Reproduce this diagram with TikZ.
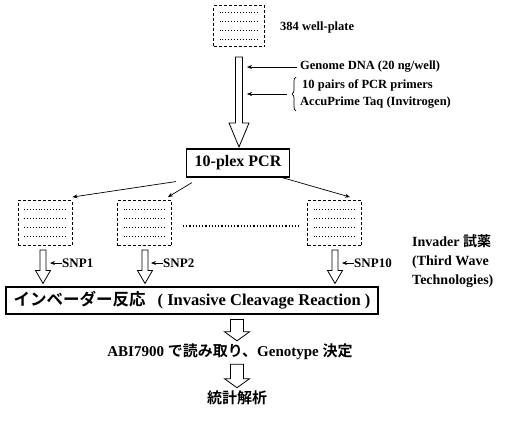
\documentclass[tikz,border=0pt]{standalone}
\usepackage{fontspec}
\setmainfont{Liberation Serif}
\newfontfamily\jp{Noto Sans CJK JP}[BoldFont={Noto Sans CJK JP Bold}]
\usetikzlibrary{arrows.meta,calc,decorations.pathreplacing}

\tikzset{
  plate/.style={draw, densely dashed, line width=0.9pt, minimum width=54pt, minimum height=45pt, inner sep=0pt,
    path picture={\foreach \r in {-13.5,-4.5,4.5,13.5}
      \draw[solid, dotted, line width=0.9pt] ([xshift=6pt,yshift=\r pt]path picture bounding box.west) -- ([xshift=-6pt,yshift=\r pt]path picture bounding box.east);}},
  box/.style={draw, line width=1.1pt, inner sep=3pt},
  note/.style={font=\bfseries\fontsize{12.5}{15}\selectfont, inner sep=0pt, anchor=west},
  snp/.style={font=\bfseries\fontsize{13}{15}\selectfont, inner sep=0pt, anchor=west},
  thinarrow/.style={-{Stealth[length=5pt,width=4pt]}, line width=0.7pt},
}

% hollow block arrow: start, tip, half shaft, half head, head length
\newcommand{\fatarrow}[5]{%
  \draw[fill=white, line width=0.8pt] let \p1=(#1), \p2=(#2) in
    (\x1-#3,\y1) -- (\x1-#3,\y2+#5) -- (\x1-#4,\y2+#5) -- (\x1,\y2)
    -- (\x1+#4,\y2+#5) -- (\x1+#3,\y2+#5) -- (\x1+#3,\y1) -- cycle;}

\begin{document}
\begin{tikzpicture}[x=1pt,y=-1pt]
  \useasboundingbox (0,0) rectangle (506,421);

  % top plate and PCR
  \node[plate, minimum width=51pt, minimum height=41pt] (plate0) at (239,26) {};
  \node[note] (well) at (280,27) {384 well-plate};
  \node[box, font=\bfseries\fontsize{16}{18}\selectfont, minimum width=103pt, minimum height=28pt] (pcr) at (238,163) {10-plex PCR};
  \fatarrow{$(plate0.south)+(0,10)$}{$(pcr.north)+(0,-1.5)$}{3.5pt}{10pt}{24pt}

  % inputs
  \node[note] (genome) at (300,67) {Genome DNA (20 ng/well)};
  \coordinate (gtip) at (247,67);
  \draw[thinarrow] ([xshift=-3pt]genome.west) -- (gtip);
  \node[note] (primer) at (302,85) {10 pairs of PCR primers};
  \node[note] (accu) at (300,103) {AccuPrime Taq (Invitrogen)};
  \draw[line width=0.7pt, decorate, decoration={brace, amplitude=4pt}] (296,111) -- (296,77);
  \coordinate (brace) at (287,94);
  \coordinate (ptip) at (247,94);
  \draw[thinarrow, line width=0.5pt] (brace) -- (ptip);

  % split plates
  \node[plate] (p1) at (45,223) {};
  \node[plate] (p2) at (144.5,223) {};
  \node[plate] (p3) at (334.5,223) {};
  \draw[dotted, line width=1.2pt] ([xshift=11pt,yshift=-3pt]p2.east) -- ([xshift=-7pt,yshift=-3pt]p3.west);
  \draw[thinarrow] ([xshift=-10pt,yshift=-4pt]pcr.south west) -- ([xshift=0pt,yshift=3pt]p1.north east);
  \draw[thinarrow] ([xshift=6pt,yshift=-5pt]pcr.south west) -- ([xshift=-4pt,yshift=3pt]p2.north east);
  \draw[thinarrow] ([xshift=-8pt]pcr.south east) -- ([xshift=-12pt,yshift=3pt]p3.north east);

  % invader reaction
  \node[box, font=\bfseries\fontsize{16.5}{18}\selectfont, minimum width=372pt, minimum height=27pt] (inv) at (192,300.5)
    {{\jp\fontsize{16.5}{18}\selectfont インベーダー反応}\hspace{12pt}( Invasive Cleavage Reaction )};
  \fatarrow{$(p1.south)+(-2,4)$}{$(p1 |- inv.north)+(-2,-3)$}{3pt}{7.5pt}{13pt}
  \fatarrow{$(p2.south)+(0.5,4)$}{$(p2 |- inv.north)+(0.5,-3)$}{3pt}{7.5pt}{13pt}
  \fatarrow{$(p3.south)+(0.5,4)$}{$(p3 |- inv.north)+(0.5,-3)$}{3pt}{7.5pt}{13pt}
  \foreach \n/\x in {1/62,2/163,10/354} {
    \node[snp] (snp\n) at (\x,263) {SNP\n};
    \coordinate (sx\n) at (\x-12,263);
    \draw[thinarrow] (snp\n.west) -- (sx\n);
  }
  \node[note, font=\bfseries\fontsize{14}{19}\selectfont, align=left, anchor=north west] (reagent) at (412,234)
    {Invader {\jp 試薬}\\(Third Wave\\Technologies)};

  % readout
  \node[font=\bfseries\fontsize{15}{17}\selectfont, inner sep=0pt] (abi) at (230,352)
    {ABI7900 {\jp で読み取り、}Genotype {\jp 決定}};
  \node[font=\bfseries\fontsize{15}{17}\selectfont, inner sep=0pt] (stat) at (237,398) {\jp 統計解析};
  \fatarrow{$(inv.south -| stat)+(0,5)$}{$(abi.north -| stat)+(0,-3)$}{6.5pt}{12.5pt}{9pt}
  \fatarrow{$(abi.south -| stat)+(0,4)$}{$(stat.north)+(0,-3)$}{6.5pt}{12.5pt}{9pt}
\end{tikzpicture}
\end{document}
